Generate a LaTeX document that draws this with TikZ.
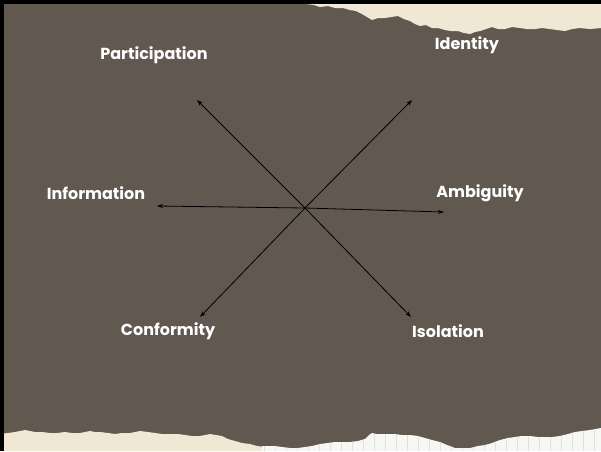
\documentclass[tikz,border=0pt]{standalone}
\usepackage{fontspec}
\setmainfont{Poppins}
\usetikzlibrary{arrows.meta}

\definecolor{slate}{HTML}{615950}
\definecolor{oldpaper}{HTML}{F0E8D4}
\definecolor{gridpaper}{HTML}{F7F7F4}

\tikzset{
  lbl/.style={text=white, font=\fontsize{16}{19}\selectfont\bfseries},
  spoke/.style={black, line width=0.8pt, -{Stealth[length=6pt,width=4pt]}},
}

\begin{document}
\begin{tikzpicture}[x=1pt, y=-1pt]
  % board and frame
  \fill[slate] (0,0) rectangle (601,451);
  \useasboundingbox (0,0) rectangle (601,451);

  % torn paper, top right
  \fill[oldpaper] (306,4) -- (314,5) -- (320,7) -- (328,6) -- (335,8) -- (343,8)
    -- (350,10) -- (356,11) -- (362,14) -- (367,17) -- (372,20) -- (378,18)
    -- (385,18) -- (391,17) -- (398,16) -- (404,19) -- (410,21) -- (415,24)
    -- (420,26) -- (426,25) -- (432,28) -- (438,28) -- (445,30) -- (451,31)
    -- (458,31) -- (464,33) -- (470,34) -- (475,32) -- (480,31) -- (486,29)
    -- (492,27) -- (498,29) -- (505,29) -- (512,27) -- (520,28) -- (527,29)
    -- (535,29) -- (542,28) -- (550,29) -- (557,30) -- (565,31) -- (572,29)
    -- (580,28) -- (590,29) -- (601,28) -- (601,4) -- cycle;

  % torn paper, bottom left
  \fill[oldpaper] (0,434) -- (8,433) -- (15,432) -- (20,431) -- (25,430) -- (30,431)
    -- (35,432) -- (42,432) -- (50,433) -- (57,433) -- (65,432) -- (72,433)
    -- (80,433) -- (85,432) -- (90,431) -- (95,432) -- (100,432) -- (108,433)
    -- (115,434) -- (122,433) -- (130,433) -- (135,432) -- (140,431) -- (148,432)
    -- (155,433) -- (162,434) -- (170,434) -- (178,434) -- (185,435) -- (192,436)
    -- (200,436) -- (205,435) -- (210,434) -- (216,435) -- (222,436) -- (228,439)
    -- (235,441) -- (242,443) -- (250,444) -- (257,446) -- (265,447) -- (265,451)
    -- (0,451) -- cycle;

  % graph paper, bottom right
  \begin{scope}
    \clip (262,446) -- (275,446) -- (282,447) -- (290,448) -- (298,448) -- (305,447)
      -- (312,446) -- (320,444) -- (328,443) -- (335,442) -- (342,442) -- (350,442)
      -- (358,441) -- (365,439) -- (369,435) -- (372,433) -- (376,434) -- (380,434)
      -- (388,434) -- (395,434) -- (402,435) -- (410,435) -- (418,436) -- (425,438)
      -- (432,440) -- (440,442) -- (447,445) -- (455,448) -- (462,448) -- (470,448)
      -- (478,446) -- (485,445) -- (492,443) -- (500,440) -- (508,438) -- (515,437)
      -- (522,436) -- (530,436) -- (538,437) -- (545,437) -- (552,437) -- (560,436)
      -- (568,434) -- (575,432) -- (582,431) -- (590,430) -- (601,428) -- (601,451)
      -- (262,451) -- cycle;
    \fill[gridpaper] (262,420) rectangle (601,451);
    \draw[black!12, line width=0.4pt, step=11] (262,418) grid (601,451);
  \end{scope}

  \fill[black] (0,0) rectangle (601,4);
  \fill[black] (0,0) rectangle (4,451);

  % hub and arrow ends
  \coordinate (hub) at (305,208);
  \coordinate (endPart) at (197,100);
  \coordinate (endIden) at (412,100);
  \coordinate (endInfo) at (157,206);
  \coordinate (endAmbi) at (444,212);
  \coordinate (endConf) at (200,317);
  \coordinate (endIsol) at (411,317);

  \foreach \e in {endPart,endIden,endInfo,endAmbi,endConf,endIsol}
    \draw[spoke] (hub) -- (\e);

  % labels
  \node[lbl] (part) at (154,55) {Participation};
  \node[lbl] (iden) at (467,45) {Identity};
  \node[lbl] (info) at (96,193) {Information};
  \node[lbl] (ambi) at (480,193) {Ambiguity};
  \node[lbl] (conf) at (168,331) {Conformity};
  \node[lbl] (isol) at (448,331) {Isolation};
\end{tikzpicture}
\end{document}
